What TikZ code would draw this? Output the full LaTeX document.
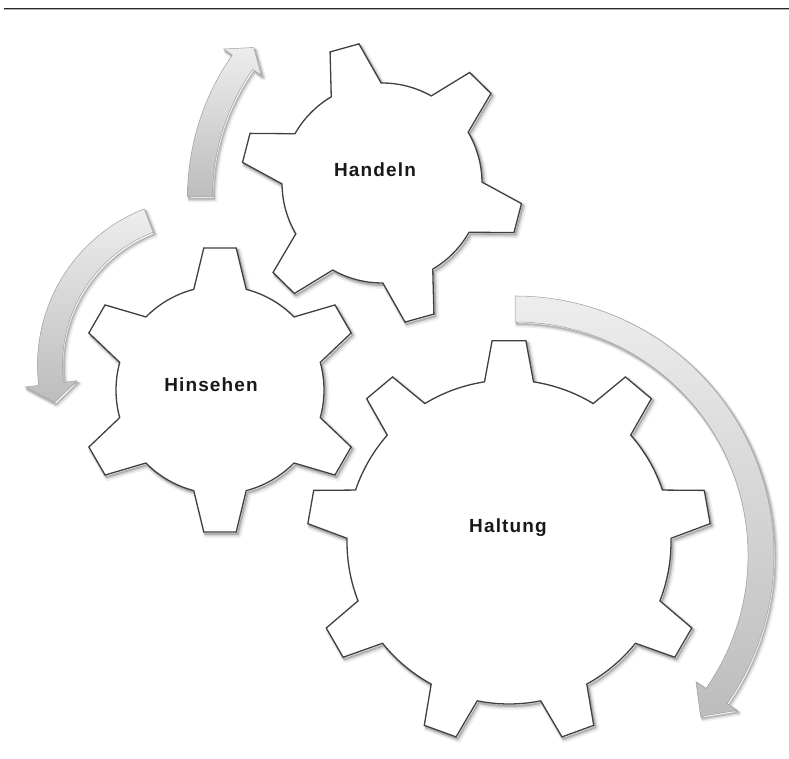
\documentclass[tikz,border=0pt]{standalone}
\usepackage{fontspec}
\setmainfont{Liberation Sans}
\newfontfamily\labelfont[LetterSpace=6]{Liberation Sans}

\newcommand\drawgear[8]{% #1 cx, #2 cy, #3 n, #4 offset, #5 ro, #6 ri, #7 tip half-angle, #8 root half-angle
  \pgfmathsetmacro\gstep{360/#3}%
  \pgfmathtruncatemacro\glast{#3-1}%
  \foreach \gsx/\gsy/\glw/\gop in {2.5/-3/6/0.06, 2/-2.5/3.5/0.10, 1.5/-2/1.8/0.18}{%
    \draw[gearshadow, line width=\glw, opacity=\gop, shift={(#1+\gsx,#2+\gsy)}]
      ({#4-#8}:#6) \foreach \k in {0,...,\glast}{
        -- ({#4+\k*\gstep-#7}:#5) -- ({#4+\k*\gstep+#7}:#5) -- ({#4+\k*\gstep+#8}:#6)
        arc[start angle={#4+\k*\gstep+#8}, end angle={#4+(\k+1)*\gstep-#8}, radius=#6]} -- cycle;
  }%
  \draw[gearline, shift={(#1,#2)}]
      ({#4-#8}:#6) \foreach \k in {0,...,\glast}{
        -- ({#4+\k*\gstep-#7}:#5) -- ({#4+\k*\gstep+#7}:#5) -- ({#4+\k*\gstep+#8}:#6)
        arc[start angle={#4+\k*\gstep+#8}, end angle={#4+(\k+1)*\gstep-#8}, radius=#6]} -- cycle;
}

\newcommand\drawarrow[8]{% #1 cx, #2 cy, #3 r, #4 half width, #5 start angle, #6 head base angle, #7 tip angle, #8 head half width
  \pgfmathsetmacro\arro{#3+#4}%
  \pgfmathsetmacro\arri{#3-#4}%
  \pgfmathsetmacro\arho{#3+#8}%
  \pgfmathsetmacro\arhi{#3-#8}%
  \foreach \asx/\asy/\alw/\aop in {2.5/-3/5/0.06, 2/-2.5/3/0.10, 1.5/-2/1.5/0.15}{%
    \draw[arrowshadow, line width=\alw, opacity=\aop, shift={(#1+\asx,#2+\asy)}]
      (#5:\arro) arc[start angle=#5, end angle=#6, radius=\arro]
      -- (#6:\arho) -- (#7:#3) -- (#6:\arhi) -- (#6:\arri)
      arc[start angle=#6, end angle=#5, radius=\arri] -- cycle;
  }%
  \path[arrowband, shift={(#1,#2)}]
      (#5:\arro) arc[start angle=#5, end angle=#6, radius=\arro]
      -- (#6:\arho) -- (#7:#3) -- (#6:\arhi) -- (#6:\arri)
      arc[start angle=#6, end angle=#5, radius=\arri] -- cycle;
}

\begin{document}
\begin{tikzpicture}[x=1pt,y=1pt,
  gearline/.style={draw=black!75, line width=1.3pt, fill=white, line join=miter},
  gearshadow/.style={draw=black, line join=round},
  arrowband/.style={top color=black!7, bottom color=black!26, draw=black!38, line width=0.5pt},
  arrowshadow/.style={draw=black, line join=round},
  lbl/.style={font=\labelfont\bfseries\fontsize{19}{22}\selectfont, text=black!90, anchor=base, inner sep=0pt}]
\useasboundingbox (0,0) rectangle (789,759);
\fill[white] (0,0) rectangle (789,759);
% top rule
\coordinate (ruleL) at (4,750.5);
\coordinate (ruleR) at (789,750.5);
\draw[black!85, line width=1.3pt] (ruleL) -- (ruleR);
\draw[black!30, line width=0.8pt] ([yshift=-1.4pt]ruleL) -- ([yshift=-1.4pt]ruleR);

% curved arrows
\drawarrow{435}{562}{235}{12.5}{180}{145}{140.5}{23}
\drawarrow{205}{394}{155}{12.5}{111.3}{187}{194}{26}
\drawarrow{515}{204}{246}{13}{90}{-35}{-41}{25}

% gears
\drawgear{382}{576}{6}{105.5}{141}{100}{6.1}{15}
\drawgear{220}{369}{6}{90}{143}{104}{6.5}{14.6}
\drawgear{509}{217}{9}{90}{202}{162}{4.8}{8.7}

% labels
\node[lbl] (handeln) at (375,582) {Handeln};
\node[lbl] (hinsehen) at (211,367) {Hinsehen};
\node[lbl] (haltung) at (508,226) {Haltung};
\end{tikzpicture}
\end{document}
